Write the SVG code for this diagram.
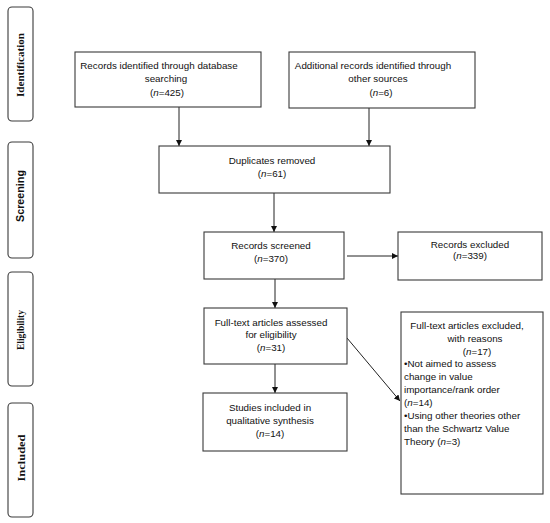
<svg xmlns="http://www.w3.org/2000/svg" width="550" height="523" viewBox="0 0 550 523">
<defs>
<marker id="ah" viewBox="0 0 10 10" refX="10" refY="5" markerWidth="6" markerHeight="6" markerUnits="userSpaceOnUse" orient="auto">
<path d="M0,0 L10,5 L0,10 z" fill="#111"/>
</marker>
<style>
.box{fill:#fff;stroke:#3a3a3a;stroke-width:1.1}
.side{fill:#fff;stroke:#3a3a3a;stroke-width:1.1}
.t{font-family:"Liberation Sans",Arial,sans-serif;font-size:9.8px;fill:#111;text-anchor:middle}
.tl{font-family:"Liberation Sans",Arial,sans-serif;font-size:9.8px;fill:#111}
.s{font-family:"Liberation Serif","Times New Roman",serif;font-size:10.5px;font-weight:bold;fill:#111;text-anchor:middle}
.ss{font-family:"Liberation Sans",Arial,sans-serif;font-size:11px;font-weight:bold;fill:#111;text-anchor:middle}
.c{fill:none;stroke:#222;stroke-width:1}
</style>
</defs>
<rect width="550" height="523" fill="#fff"/>
<g id="side-identification">
<rect class="side" x="8" y="7" width="25" height="114" rx="4"/>
<text class="s" transform="translate(24,65) rotate(-90)" textLength="64" lengthAdjust="spacingAndGlyphs">Identification</text>
</g>
<g id="side-screening">
<rect class="side" x="8" y="142" width="25" height="116" rx="4"/>
<text class="ss" transform="translate(24,196) rotate(-90)" textLength="52" lengthAdjust="spacingAndGlyphs">Screening</text>
</g>
<g id="side-eligibility">
<rect class="side" x="8" y="272" width="25" height="114" rx="4"/>
<text class="s" transform="translate(24,330) rotate(-90)" textLength="40" lengthAdjust="spacingAndGlyphs">Eligibility</text>
</g>
<g id="side-included">
<rect class="side" x="8" y="403" width="25" height="114" rx="4"/>
<text class="s" transform="translate(24.5,458) rotate(-90)" textLength="47" lengthAdjust="spacingAndGlyphs">Included</text>
</g>
<g id="connectors">
<line class="c" x1="179" y1="107" x2="179" y2="146" marker-end="url(#ah)"/>
<line class="c" x1="369" y1="108" x2="369" y2="146" marker-end="url(#ah)"/>
<line class="c" x1="274" y1="193" x2="274" y2="232" marker-end="url(#ah)"/>
<line class="c" x1="347" y1="256" x2="398" y2="256" marker-end="url(#ah)"/>
<line class="c" x1="275" y1="279" x2="275" y2="308" marker-end="url(#ah)"/>
<line class="c" x1="275" y1="364" x2="275" y2="393" marker-end="url(#ah)"/>
<line class="c" x1="347" y1="338" x2="400" y2="401" marker-end="url(#ah)"/>
</g>
<g id="db-records">
<rect class="box" x="75" y="52" width="186" height="55"/>
<text class="t" x="159" y="69">Records identified through database</text>
<text class="t" x="166" y="82">searching</text>
<text class="t" x="167" y="96">(<tspan font-style="italic">n</tspan>=425)</text>
</g>
<g id="other-records">
<rect class="box" x="289" y="52" width="186" height="56"/>
<text class="t" x="373" y="69">Additional records identified through</text>
<text class="t" x="378" y="82">other sources</text>
<text class="t" x="381" y="96">(<tspan font-style="italic">n</tspan>=6)</text>
</g>
<g id="duplicates">
<rect class="box" x="159" y="146" width="231" height="47"/>
<text class="t" x="272" y="163.5">Duplicates removed</text>
<text class="t" x="272" y="176.5">(<tspan font-style="italic">n</tspan>=61)</text>
</g>
<g id="screened">
<rect class="box" x="204" y="232" width="140" height="47"/>
<text class="t" x="271" y="248.5">Records screened</text>
<text class="t" x="271" y="261.5">(<tspan font-style="italic">n</tspan>=370)</text>
</g>
<g id="excluded">
<rect class="box" x="398" y="232" width="144" height="48"/>
<text class="t" x="470" y="247.5">Records excluded</text>
<text class="t" x="470" y="259">(<tspan font-style="italic">n</tspan>=339)</text>
</g>
<g id="assessed">
<rect class="box" x="204" y="308" width="143" height="56"/>
<text class="t" x="271" y="325.5">Full-text articles assessed</text>
<text class="t" x="271" y="337.5">for eligibility</text>
<text class="t" x="271" y="350.5">(<tspan font-style="italic">n</tspan>=31)</text>
</g>
<g id="fulltext-excluded">
<rect class="box" x="401" y="312" width="142" height="182"/>
<text class="t" x="467" y="328.5">Full-text articles excluded,</text>
<text class="t" x="475" y="341.5">with reasons</text>
<text class="t" x="477" y="354.5">(<tspan font-style="italic">n</tspan>=17)</text>
<text class="tl" x="404" y="366.5">•Not aimed to assess</text>
<text class="tl" x="404" y="379.5">change in value</text>
<text class="tl" x="404" y="392.5">importance/rank order</text>
<text class="tl" x="404" y="405.5">(<tspan font-style="italic">n</tspan>=14)</text>
<text class="tl" x="404" y="418.5">•Using other theories other</text>
<text class="tl" x="404" y="431.5">than the Schwartz Value</text>
<text class="tl" x="404" y="444.5">Theory  (<tspan font-style="italic">n</tspan>=3)</text>
</g>
<g id="included">
<rect class="box" x="203" y="393" width="144" height="58"/>
<text class="t" x="270" y="410.5">Studies included in</text>
<text class="t" x="270" y="423.5">qualitative synthesis</text>
<text class="t" x="270" y="436.5">(<tspan font-style="italic">n</tspan>=14)</text>
</g>
</svg>
